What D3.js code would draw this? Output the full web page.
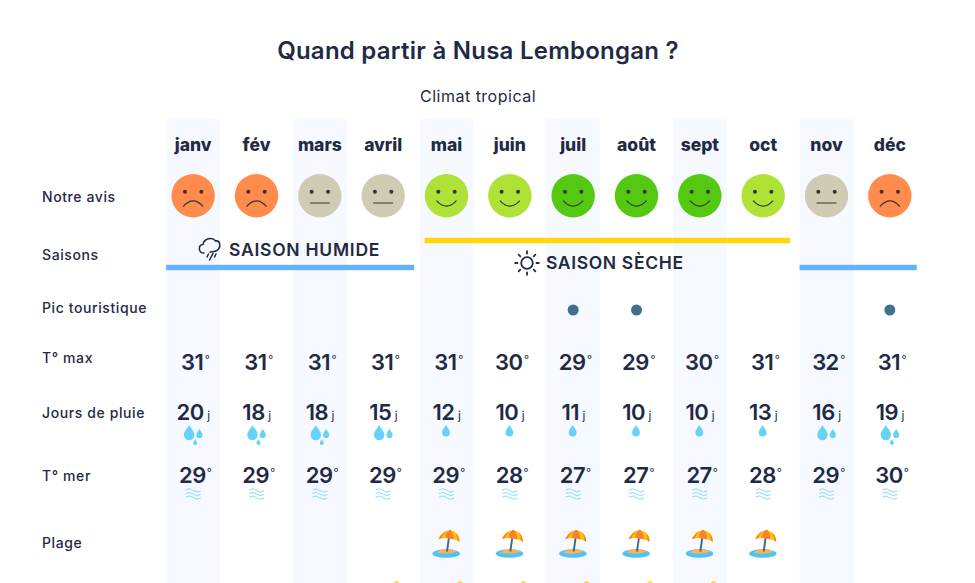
<!DOCTYPE html>
<html>
<head>
<meta charset="utf-8">
<script src="https://cdn.jsdelivr.net/npm/d3@7"></script>
<style>
  body { margin: 0; background: #fff; }
  text { font-family: "Inter", "Noto Sans", sans-serif; fill: #1f2a44; }
</style>
</head>
<body>
<div id="chart"></div>
<script>
// Quand partir - climate calendar, one row per criterion

var months = ['janv', 'fév', 'mars', 'avril', 'mai', 'juin', 'juil', 'août', 'sept', 'oct', 'nov', 'déc'];
var rowLabels = ['Notre avis', 'Saisons', 'Pic touristique', 'T° max', 'Jours de pluie', 'T° mer', 'Plage'];
var rating = ['bad', 'bad', 'mid', 'mid', 'good', 'good', 'top', 'top', 'top', 'good', 'mid', 'bad'];
var peak = [0, 0, 0, 0, 0, 0, 1, 1, 0, 0, 0, 1];
var tempMax = [31, 31, 31, 31, 31, 30, 29, 29, 30, 31, 32, 31];
var rainDays = [20, 18, 18, 15, 12, 10, 11, 10, 10, 13, 16, 19];
var rainDrops = [3, 3, 3, 2, 1, 1, 1, 1, 1, 1, 2, 3];
var tempSea = [29, 29, 29, 29, 29, 28, 27, 27, 27, 28, 29, 30];
var beach = [0, 0, 0, 0, 1, 1, 1, 1, 1, 1, 0, 0];
var sunNext = [0, 0, 0, 1, 1, 1, 1, 1, 1, 0, 0, 0];

var width = 975, height = 583;

var x = d3.scaleBand().domain(months).range([161.5, 921.5]).paddingInner(0.15).paddingOuter(0.075);
var cx = function (m) { return x(m) + x.bandwidth() / 2; };

// Label baselines of the left column
var labelY = d3.scaleOrdinal().domain(rowLabels).range([202, 260, 313, 363, 418, 481, 548]);

var faceColor = { bad: '#ff8c4d', mid: '#d0ccb4', good: '#aee236', top: '#55c912' };

var svg = d3.select('#chart').append('svg')
  .attr('width', width)
  .attr('height', height)
  .style('display', 'block');

// Caption
svg.append('text').attr('x', 478).attr('y', 59).attr('text-anchor', 'middle')
  .style('font-size', '24px').style('font-weight', 600).style('letter-spacing', '0.25px')
  .text('Quand partir à Nusa Lembongan ?');
svg.append('text').attr('x', 478).attr('y', 102).attr('text-anchor', 'middle')
  .style('font-size', '16px').style('font-weight', 400).style('letter-spacing', '0.5px')
  .text('Climat tropical');

// Alternate bands
svg.selectAll('.band')
  .data(months.filter(function (m, i) { return i % 2 == 0; }))
  .enter().append('rect')
  .attr('class', 'band')
  .attr('x', function (d) { return x(d); })
  .attr('y', 119)
  .attr('width', x.bandwidth())
  .attr('height', height - 119)
  .style('fill', '#f6f9ff');

// Month names
svg.selectAll('.month')
  .data(months)
  .enter().append('text')
  .attr('class', 'month')
  .attr('x', cx)
  .attr('y', 151)
  .attr('text-anchor', 'middle')
  .style('font-size', '17.5px')
  .style('font-weight', 800)
  .text(function (d) { return d; });

// Row labels
svg.selectAll('.row-label')
  .data(rowLabels)
  .enter().append('text')
  .attr('class', 'row-label')
  .attr('x', 42)
  .attr('y', function (d) { return labelY(d); })
  .style('font-size', '14px')
  .style('font-weight', 500)
  .style('letter-spacing', '0.6px')
  .text(function (d) { return d; });

// Faces
var faces = svg.selectAll('.face')
  .data(months)
  .enter().append('g')
  .attr('class', 'face')
  .attr('transform', function (d) { return 'translate(' + cx(d) + ',195.7)'; });

faces.append('circle').attr('r', 21.7).style('fill', function (d, i) { return faceColor[rating[i]]; });
faces.selectAll('.eye').data([-8.2, 8.2]).enter().append('circle')
  .attr('class', 'eye').attr('cx', function (d) { return d; }).attr('cy', -4).attr('r', 2).style('fill', '#333');
faces.append('path')
  .attr('d', function (d, i) {
    var r = rating[i];
    if (r == 'bad') return 'M-10,11 Q0,-0.5 10,11';
    if (r == 'mid') return 'M-10,7.3 L10,7.3';
    return 'M-10,5 Q0,16 10,5';
  })
  .style('fill', 'none')
  .style('stroke', function (d, i) { return rating[i] == 'mid' ? '#6f6c5e' : '#333'; })
  .style('stroke-width', function (d, i) { return rating[i] == 'mid' ? 1.6 : 1.2; });

// Season lines
var seasons = [
  { from: 'janv', to: 'avril', y: 267.5, color: '#64b1ff', x0: 0, x1: 4 },
  { from: 'mai', to: 'oct', y: 240.5, color: '#ffd60a', x0: 5, x1: 0 },
  { from: 'nov', to: 'déc', y: 267.5, color: '#64b1ff', x0: 0, x1: 0 }
];
svg.selectAll('.season')
  .data(seasons)
  .enter().append('rect')
  .attr('class', 'season')
  .attr('x', function (d) { return x(d.from) + d.x0; })
  .attr('y', function (d) { return d.y - 2.7; })
  .attr('width', function (d) { return x(d.to) + x.bandwidth() + d.x1 - x(d.from) - d.x0; })
  .attr('height', 5.4)
  .style('fill', function (d) { return d.color; });

svg.append('text').attr('x', 229).attr('y', 255.5)
  .style('font-size', '17.5px').style('font-weight', 600).style('letter-spacing', '0.75px').text('SAISON HUMIDE');
svg.append('text').attr('x', 546).attr('y', 268.5)
  .style('font-size', '17.5px').style('font-weight', 600).style('letter-spacing', '0.65px').text('SAISON SÈCHE');

// Rain cloud icon
var cloud = svg.append('g').attr('transform', 'translate(199,238)')
  .style('fill', 'none').style('stroke', '#1f2a44').style('stroke-width', 1.5).style('stroke-linecap', 'round');
cloud.append('path').attr('d', 'M5,15 C-1,15 -1,7 4,6.5 C5,1 13,-2 16.5,3 C21,2 22,8 19.5,11 C18,13 15,14 11,14');
cloud.append('path').attr('d', 'M9.5,16 L8,19 M14,15.5 L10.5,22 M17,16 L15.5,19');

// Sun icon
var sun = svg.append('g').attr('transform', 'translate(527,263)')
  .style('fill', 'none').style('stroke', '#1f2a44').style('stroke-linecap', 'round');
sun.append('circle').attr('r', 5.8).style('stroke-width', 1.8);
sun.selectAll('line').data(d3.range(8)).enter().append('line')
  .attr('x1', function (d) { return 9.5 * Math.cos(d * Math.PI / 4); })
  .attr('y1', function (d) { return 9.5 * Math.sin(d * Math.PI / 4); })
  .attr('x2', function (d) { return 11.8 * Math.cos(d * Math.PI / 4); })
  .attr('y2', function (d) { return 11.8 * Math.sin(d * Math.PI / 4); })
  .style('stroke-width', 1.8);

// Tourist peak dots
svg.selectAll('.peak')
  .data(months.filter(function (m, i) { return peak[i]; }))
  .enter().append('circle')
  .attr('class', 'peak')
  .attr('cx', cx)
  .attr('cy', 310)
  .attr('r', 5.5)
  .style('fill', '#41708f');

// Number + small unit cells
function numberRow(values, baseline, unit, gap, shift) {
  var g = svg.append('g').selectAll('text').data(months).enter().append('text')
    .attr('x', function (d) { return cx(d) + shift; })
    .attr('y', baseline)
    .attr('text-anchor', 'middle')
    .style('font-size', '22px')
    .style('letter-spacing', '-0.5px')
    .style('font-weight', 600);
  g.append('tspan').text(function (d, i) { return values[i]; });
  g.append('tspan').attr('dx', gap).style('font-size', unit == 'j' ? '12px' : '11px')
    .style('font-weight', 400)
    .attr('dy', unit == 'j' ? 0 : -7)
    .text(unit);
}
numberRow(tempMax, 370, '°', 1.5, 2);
numberRow(rainDays, 420, 'j', 3.5, 0);
numberRow(tempSea, 483, '°', 1, 2);

// Rain drops
var dropColor = '#66d2f8';
function dropPath(s) {
  return 'M0,' + (-9 * s) + ' C' + (2 * s) + ',' + (-5 * s) + ' ' + (5.2 * s) + ',' + (-3 * s) + ' ' + (5.2 * s) + ',' + (1 * s) +
    ' A' + (5.2 * s) + ',' + (5.2 * s) + ' 0 0 1 ' + (-5.2 * s) + ',' + (1 * s) +
    ' C' + (-5.2 * s) + ',' + (-3 * s) + ' ' + (-2 * s) + ',' + (-5 * s) + ' 0,' + (-9 * s) + 'Z';
}
var drops = svg.selectAll('.drops').data(months).enter().append('g')
  .attr('class', 'drops')
  .attr('transform', function (d) { return 'translate(' + cx(d) + ',434)'; });
drops.each(function (d, i) {
  var g = d3.select(this), n = rainDrops[i];
  if (n == 1) {
    g.append('path').attr('d', dropPath(0.75)).style('fill', dropColor).attr('transform', 'translate(-0.5,-2.2)');
    return;
  }
  g.append('path').attr('d', dropPath(1)).style('fill', dropColor).attr('transform', 'translate(-4,0)');
  g.append('path').attr('d', dropPath(0.6)).style('fill', dropColor).attr('transform', 'translate(6.3,0.4)');
  if (n == 3) g.append('path').attr('d', dropPath(0.38)).style('fill', dropColor).attr('transform', 'translate(2,8.7)');
});

// Sea waves
var waves = svg.selectAll('.waves').data(months).enter().append('g')
  .attr('class', 'waves')
  .attr('transform', function (d) { return 'translate(' + cx(d) + ',494)'; });
waves.selectAll('path').data([-3.6, 0, 3.6]).enter().append('path')
  .attr('d', function (d) { return 'M-7.5,' + (d - 0.5) + ' Q-3.5,' + (d - 3) + ' 0,' + d + ' T7.5,' + (d + 0.5); })
  .style('fill', 'none').style('stroke', '#86dcfb').style('stroke-width', 1);

// Beach umbrellas
var beaches = svg.selectAll('.beach')
  .data(months.filter(function (m, i) { return beach[i]; }))
  .enter().append('g')
  .attr('class', 'beach')
  .attr('transform', function (d) { return 'translate(' + cx(d) + ',543)'; });
beaches.append('ellipse').attr('cx', -0.3).attr('cy', 10.5).attr('rx', 13.8).attr('ry', 4.3).style('fill', '#4fc3f7');
beaches.append('path').attr('d', 'M-10,9.5 Q0,2.5 11,8.5 Q0,12.5 -10,9.5Z').style('fill', '#f7b35c');
beaches.append('path').attr('d', 'M0.5,8.5 L3.5,-13').style('stroke', '#3f6a85').style('stroke-width', 1.9).style('fill', 'none');
beaches.append('path').attr('d', 'M-8,-4 C-5,-10 -1,-12.5 3,-12.5 C9,-12.5 13,-8 13,-1 L10,-3 L6,-4 L1,-5 L-3,-5Z').style('fill', '#ffc107');
beaches.append('path').attr('d', 'M-1,-5 C-1,-9 1,-12.5 3,-12.5 C6,-12 7.5,-8 7,-3.5 L3,-4.5Z').style('fill', '#ff7f2a');
beaches.append('path').attr('d', 'M-8,-4 C-6,-8 -3,-11 0,-12 C-2.5,-10 -4,-7.5 -5,-4.8Z').style('fill', '#ff7f2a');
beaches.append('path').attr('d', 'M9,-10.5 C11.5,-8.5 13,-5 13,-1 L11,-2.5 C11,-5 10.5,-8 9,-10.5Z').style('fill', '#ff7f2a');

// Next row cut by the bottom of the picture: only the top of the suns shows
svg.selectAll('.sun-top')
  .data(months.filter(function (m, i) { return sunNext[i]; }))
  .enter().append('circle')
  .attr('class', 'sun-top')
  .attr('cx', function (d) { return cx(d) + 13.5; })
  .attr('cy', 583.5)
  .attr('r', 2.6)
  .style('fill', '#ffd84d');
</script>
</body>
</html>
